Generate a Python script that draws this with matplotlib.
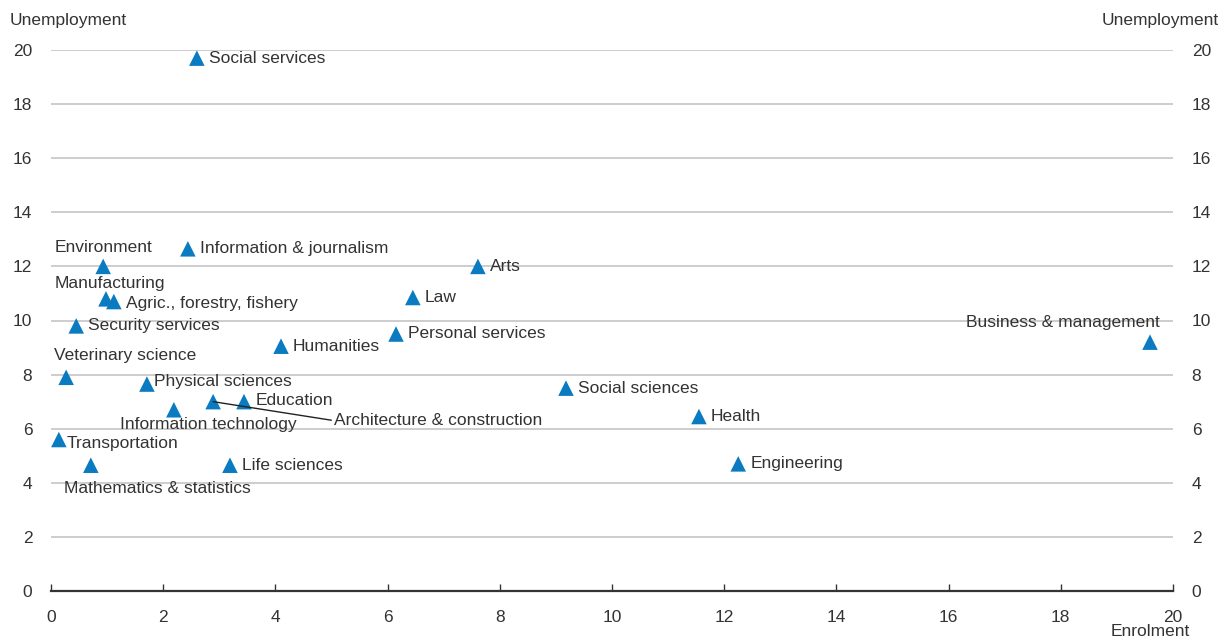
import matplotlib
matplotlib.use("Agg")
import matplotlib.pyplot as plt

plt.rcParams['font.family'] = ['Liberation Sans', 'DejaVu Sans']

# Share of enrolment (%) and unemployment rate (%) by field of study
fields = [
    "Social services", "Information & journalism", "Environment", "Manufacturing",
    "Agric., forestry, fishery", "Security services", "Veterinary science",
    "Physical sciences", "Information technology", "Architecture & construction",
    "Education", "Transportation", "Mathematics & statistics", "Life sciences",
    "Humanities", "Personal services", "Law", "Arts", "Social sciences",
    "Health", "Engineering", "Business & management",
]
enrolment = [2.60, 2.44, 0.93, 0.98, 1.12, 0.45, 0.27, 1.71, 2.19, 2.89,
             3.44, 0.14, 0.71, 3.19, 4.10, 6.15, 6.45, 7.61, 9.18, 11.55,
             12.25, 19.59]
unemployment = [19.7, 12.65, 12.0, 10.8, 10.7, 9.8, 7.9, 7.65, 6.7, 7.0,
                7.0, 5.6, 4.65, 4.65, 9.05, 9.5, 10.85, 12.0, 7.5, 6.45,
                4.7, 9.2]

x_ticks = list(range(0, 21, 2))
y_ticks = list(range(0, 21, 2))

# label placement: (dx, dy) in pixels from the marker, horizontal alignment
label_pos = {
    "Social services": (12, 0, "left"),
    "Information & journalism": (12, 0, "left"),
    "Environment": (0, 19, "center"),
    "Manufacturing": (4, 15, "center"),
    "Agric., forestry, fishery": (12, -2, "left"),
    "Security services": (12, 0, "left"),
    "Veterinary science": (-12, 22, "left"),
    "Physical sciences": (7, 3, "left"),
    "Information technology": (34, -15, "center"),
    "Architecture & construction": (121, -19, "left"),
    "Education": (12, 1, "left"),
    "Transportation": (8, -4, "left"),
    "Mathematics & statistics": (-27, -23, "left"),
    "Life sciences": (12, 0, "left"),
    "Humanities": (12, 0, "left"),
    "Personal services": (12, 1, "left"),
    "Law": (12, 0, "left"),
    "Arts": (12, 0, "left"),
    "Social sciences": (12, 0, "left"),
    "Health": (12, 0, "left"),
    "Engineering": (12, 0, "left"),
    "Business & management": (10, 20, "right"),
}

text_color = "#333333"
blue = "#0a7bc1"
fs = 12.5

fig = plt.figure(figsize=(12.29, 6.41), dpi=100)
ax = fig.add_axes([51 / 1229, 1 - 591 / 641, (1173 - 51) / 1229, (591 - 50) / 641])
ax.set_xlim(0, 20)
ax.set_ylim(0, 20)

for y in y_ticks[1:]:
    ax.axhline(y, color="#c9c9c9", lw=1.3, zorder=0)

ax.scatter(enrolment, unemployment, marker="^", s=125, color=blue,
           edgecolors="none", zorder=3)

for name, x, y in zip(fields, enrolment, unemployment):
    dx, dy, ha = label_pos[name]
    if name == "Architecture & construction":
        ax.annotate(name, (x, y), xytext=(dx, dy), textcoords="offset pixels",
                    ha=ha, va="center", fontsize=fs, color=text_color, zorder=4,
                    arrowprops=dict(arrowstyle="-", color="#222222", lw=1,
                                    shrinkA=0, shrinkB=0,
                                    relpos=(0, 0.5)))
    else:
        ax.annotate(name, (x, y), xytext=(dx, dy), textcoords="offset pixels",
                    ha=ha, va="center", fontsize=fs, color=text_color, zorder=4)

for side in ("left", "right", "top"):
    ax.spines[side].set_visible(False)
ax.spines["bottom"].set_color("#333333")
ax.spines["bottom"].set_linewidth(1.6)

ax.set_xticks(x_ticks)
ax.set_xticklabels([str(v) for v in x_ticks])
ax.set_yticks(y_ticks)
ax.set_yticklabels([str(v) for v in y_ticks])
ax.tick_params(axis="x", direction="in", length=5, width=1, color="#333333",
               labelsize=fs, labelcolor=text_color, pad=14)
ax.tick_params(axis="y", length=0, labelsize=fs, labelcolor=text_color, pad=13.5,
               labelleft=True, labelright=True)

fig.text(10 / 1229, 1 - 20 / 641, "Unemployment", ha="left", va="center",
         fontsize=fs, color=text_color)
fig.text(1219 / 1229, 1 - 20 / 641, "Unemployment", ha="right", va="center",
         fontsize=fs, color=text_color)
fig.text(1190 / 1229, 1 - 632 / 641, "Enrolment", ha="right", va="center",
         fontsize=fs, color=text_color)

fig.savefig("out.png", dpi=100, facecolor="white")
